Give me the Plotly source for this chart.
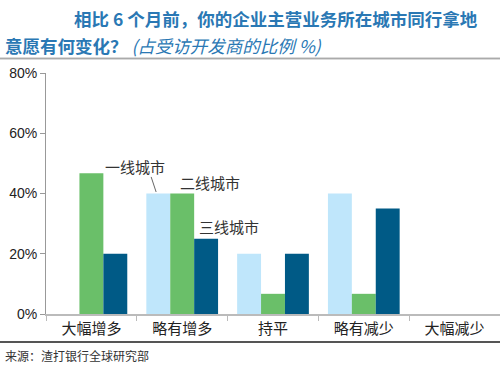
import plotly.graph_objects as go

categories = ["大幅增多", "略有增多", "持平", "略有减少", "大幅减少"]
series_names = ["一线城市", "二线城市", "三线城市"]
tier1 = [0, 40, 20, 40, 0]
tier2 = [46.7, 40, 6.7, 6.7, 0]
tier3 = [20, 25, 20, 35, 0]
yticks = [0, 20, 40, 60, 80]
ytick_labels = ["0%", "20%", "40%", "60%", "80%"]

colors = ["#bfe6fb", "#6abf69", "#005a86"]
CJK = "Noto Sans CJK SC"

fig = go.Figure()
for name, vals, c in zip(series_names, [tier1, tier2, tier3], colors):
    fig.add_trace(go.Bar(x=categories, y=vals, name=name, marker=dict(color=c, line=dict(width=0))))

W, H = 500, 366
L, T, B = 46, 73, 52

# decorative separator rules on a full-page overlay subplot (pixel coordinates)
for yy, col, wd in [(58.5, "#aaaaaa", 1.5), (342, "#555555", 2)]:
    fig.add_trace(go.Scatter(x=[0, W], y=[yy, yy], mode="lines", xaxis="x2", yaxis="y2",
                             line=dict(color=col, width=wd), hoverinfo="skip", showlegend=False))

def px2x(px):
    return px / W

def py2y(py):
    return (H - py) / H

annos = [
    dict(text="<b>相比 6 个月前，你的企业主营业务所在城市同行拿地</b>", x=px2x(72), y=py2y(18),
         xanchor="left", yanchor="middle", font=dict(size=17.5, color="#2a78b4", family=CJK)),
    dict(text="<b>意愿有何变化？</b> <i>(占受访开发商的比例 %)</i>", x=px2x(3), y=py2y(45),
         xanchor="left", yanchor="middle", font=dict(size=17.5, color="#2a78b4", family=CJK)),
    dict(text="来源：渣打银行全球研究部", x=px2x(3), y=py2y(355),
         xanchor="left", yanchor="middle", font=dict(size=12, color="#333", family=CJK)),
]
for a in annos:
    a.update(xref="paper", yref="paper", showarrow=False)

series_labels = [
    ("一线城市", 0.48, 48.8),
    ("二线城市", 1.303, 43.5),
    ("三线城市", 1.52, 29.2),
]
for t, xv, yv in series_labels:
    annos.append(dict(text=t, x=xv, y=yv, xref="x", yref="y", showarrow=False,
                      xanchor="center", yanchor="middle",
                      font=dict(size=15, color="#333", family=CJK)))

fig.update_layout(
    width=W, height=H,
    margin=dict(l=0, r=0, t=0, b=0, autoexpand=False),
    paper_bgcolor="white", plot_bgcolor="rgba(0,0,0,0)",
    barmode="group", bargap=0.21, bargroupgap=0,
    showlegend=False,
    annotations=annos,
    font=dict(family=CJK, color="#222"),
    xaxis2=dict(domain=[0, 1], range=[0, W], visible=False, anchor="y2", fixedrange=True),
    yaxis2=dict(domain=[0, 1], range=[H, 0], visible=False, anchor="x2", fixedrange=True),
)
fig.add_shape(type="line", xref="paper", yref="paper", x0=0, x1=1,
              y0=py2y(58.5), y1=py2y(58.5), line=dict(color="#aaaaaa", width=1.5))
fig.add_shape(type="line", xref="paper", yref="paper", x0=0, x1=1,
              y0=py2y(342), y1=py2y(342), line=dict(color="#555555", width=2))
fig.add_shape(type="line", xref="x", yref="y", x0=0.658, y0=45.5, x1=0.713, y1=40.5,
              line=dict(color="#666666", width=1))

fig.update_layout(
    yaxis=dict(range=[0, 80], tickvals=yticks, ticktext=ytick_labels,
               domain=[B / H, 1 - T / H], automargin=False,
               showgrid=False, zeroline=False, showline=True, linecolor="#999", linewidth=1,
               ticks="outside", ticklen=5, tickcolor="#999",
               tickfont=dict(family="Liberation Sans, Arial", size=14, color="#222")),
    xaxis=dict(domain=[L / W, 1], automargin=False,
               showgrid=False, showline=True, linecolor="#bbb", linewidth=1.5,
               ticks="outside", ticklen=5, tickcolor="#bbb", tickson="boundaries",
               tickfont=dict(family=CJK, size=15, color="#222")),
)

post = ("document.body.style.margin='0';document.body.style.overflow='hidden';"
        "var gd=document.getElementById('{plot_id}');"
        "Plotly.newPlot(gd, gd.data, gd.layout, {displayModeBar:false});")

fig.write_html("out.html", config={"displayModeBar": False}, post_script=post)
